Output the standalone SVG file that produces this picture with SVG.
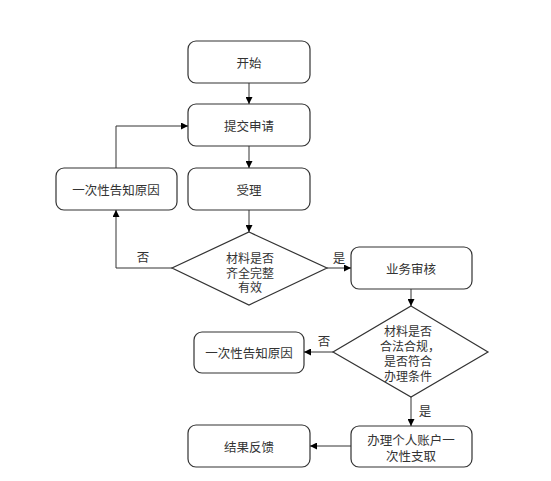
<svg xmlns="http://www.w3.org/2000/svg" width="551" height="481" viewBox="0 0 551 481">
<defs>
<style>
.box{fill:#fff;stroke:#333;stroke-width:1.2}
.t{font-family:"Noto Sans CJK SC","Noto Sans",sans-serif;font-size:12.5px;fill:#333;text-anchor:middle;dominant-baseline:central}
.d{font-size:12px}
.ln{fill:none;stroke:#333;stroke-width:1}
</style>
<marker id="ah" viewBox="0 0 10 10" refX="10" refY="5" markerWidth="7" markerHeight="7" orient="auto" markerUnits="userSpaceOnUse">
<path d="M0,0 L10,5 L0,10 z" fill="#000"/>
</marker>
</defs>
<rect width="551" height="481" fill="#fff"/>
<g id="start"><rect class="box" x="188" y="41" width="122" height="42" rx="8"/><text class="t" x="249" y="62">开始</text></g>
<g id="submit"><rect class="box" x="188" y="104" width="122" height="42" rx="8"/><text class="t" x="249" y="125">提交申请</text></g>
<g id="accept"><rect class="box" x="188" y="168" width="122" height="42" rx="8"/><text class="t" x="249" y="189">受理</text></g>
<g id="notify1"><rect class="box" x="56" y="168" width="121" height="42" rx="8"/><text class="t" x="116" y="189">一次性告知原因</text></g>
<g id="check1"><polygon class="box" points="249,232 327,268 249,305 172,268"/><text class="t d"><tspan x="250" y="257">材料是否</tspan><tspan x="250" y="271.5">齐全完整</tspan><tspan x="250" y="286">有效</tspan></text></g>
<g id="review"><rect class="box" x="351" y="247" width="121" height="42" rx="8"/><text class="t" x="411" y="268">业务审核</text></g>
<g id="check2"><polygon class="box" points="411,306 488,352 411,397 333,352"/><text class="t d"><tspan x="408" y="330">材料是否</tspan><tspan x="410" y="345">合法合规，</tspan><tspan x="408" y="360">是否符合</tspan><tspan x="408" y="375">办理条件</tspan></text></g>
<g id="notify2"><rect class="box" x="194" y="332" width="110" height="41" rx="8"/><text class="t" x="249" y="352">一次性告知原因</text></g>
<g id="withdraw"><rect class="box" x="351" y="426" width="121" height="41" rx="8"/><text class="t"><tspan x="411" y="439">办理个人账户一</tspan><tspan x="411" y="455">次性支取</tspan></text></g>
<g id="feedback"><rect class="box" x="188" y="425" width="122" height="42" rx="8"/><text class="t" x="249" y="446">结果反馈</text></g>
<g id="connectors">
<line class="ln" x1="249" y1="83" x2="249" y2="104" marker-end="url(#ah)"/>
<line class="ln" x1="249" y1="146" x2="249" y2="168" marker-end="url(#ah)"/>
<line class="ln" x1="249" y1="210" x2="249" y2="232" marker-end="url(#ah)"/>
<polyline class="ln" points="172,268 116,268 116,210" marker-end="url(#ah)"/>
<polyline class="ln" points="116,168 116,126 188,126" marker-end="url(#ah)"/>
<line class="ln" x1="327" y1="268" x2="351" y2="268" marker-end="url(#ah)"/>
<line class="ln" x1="411" y1="289" x2="411" y2="306" marker-end="url(#ah)"/>
<line class="ln" x1="333" y1="352" x2="304" y2="352" marker-end="url(#ah)"/>
<line class="ln" x1="411" y1="397" x2="411" y2="426" marker-end="url(#ah)"/>
<line class="ln" x1="351" y1="446" x2="310" y2="446" marker-end="url(#ah)"/>
<text class="t" x="143" y="256">否</text>
<text class="t" x="339" y="257">是</text>
<text class="t" x="324" y="340">否</text>
<text class="t" x="425" y="410">是</text>
</g>
</svg>
